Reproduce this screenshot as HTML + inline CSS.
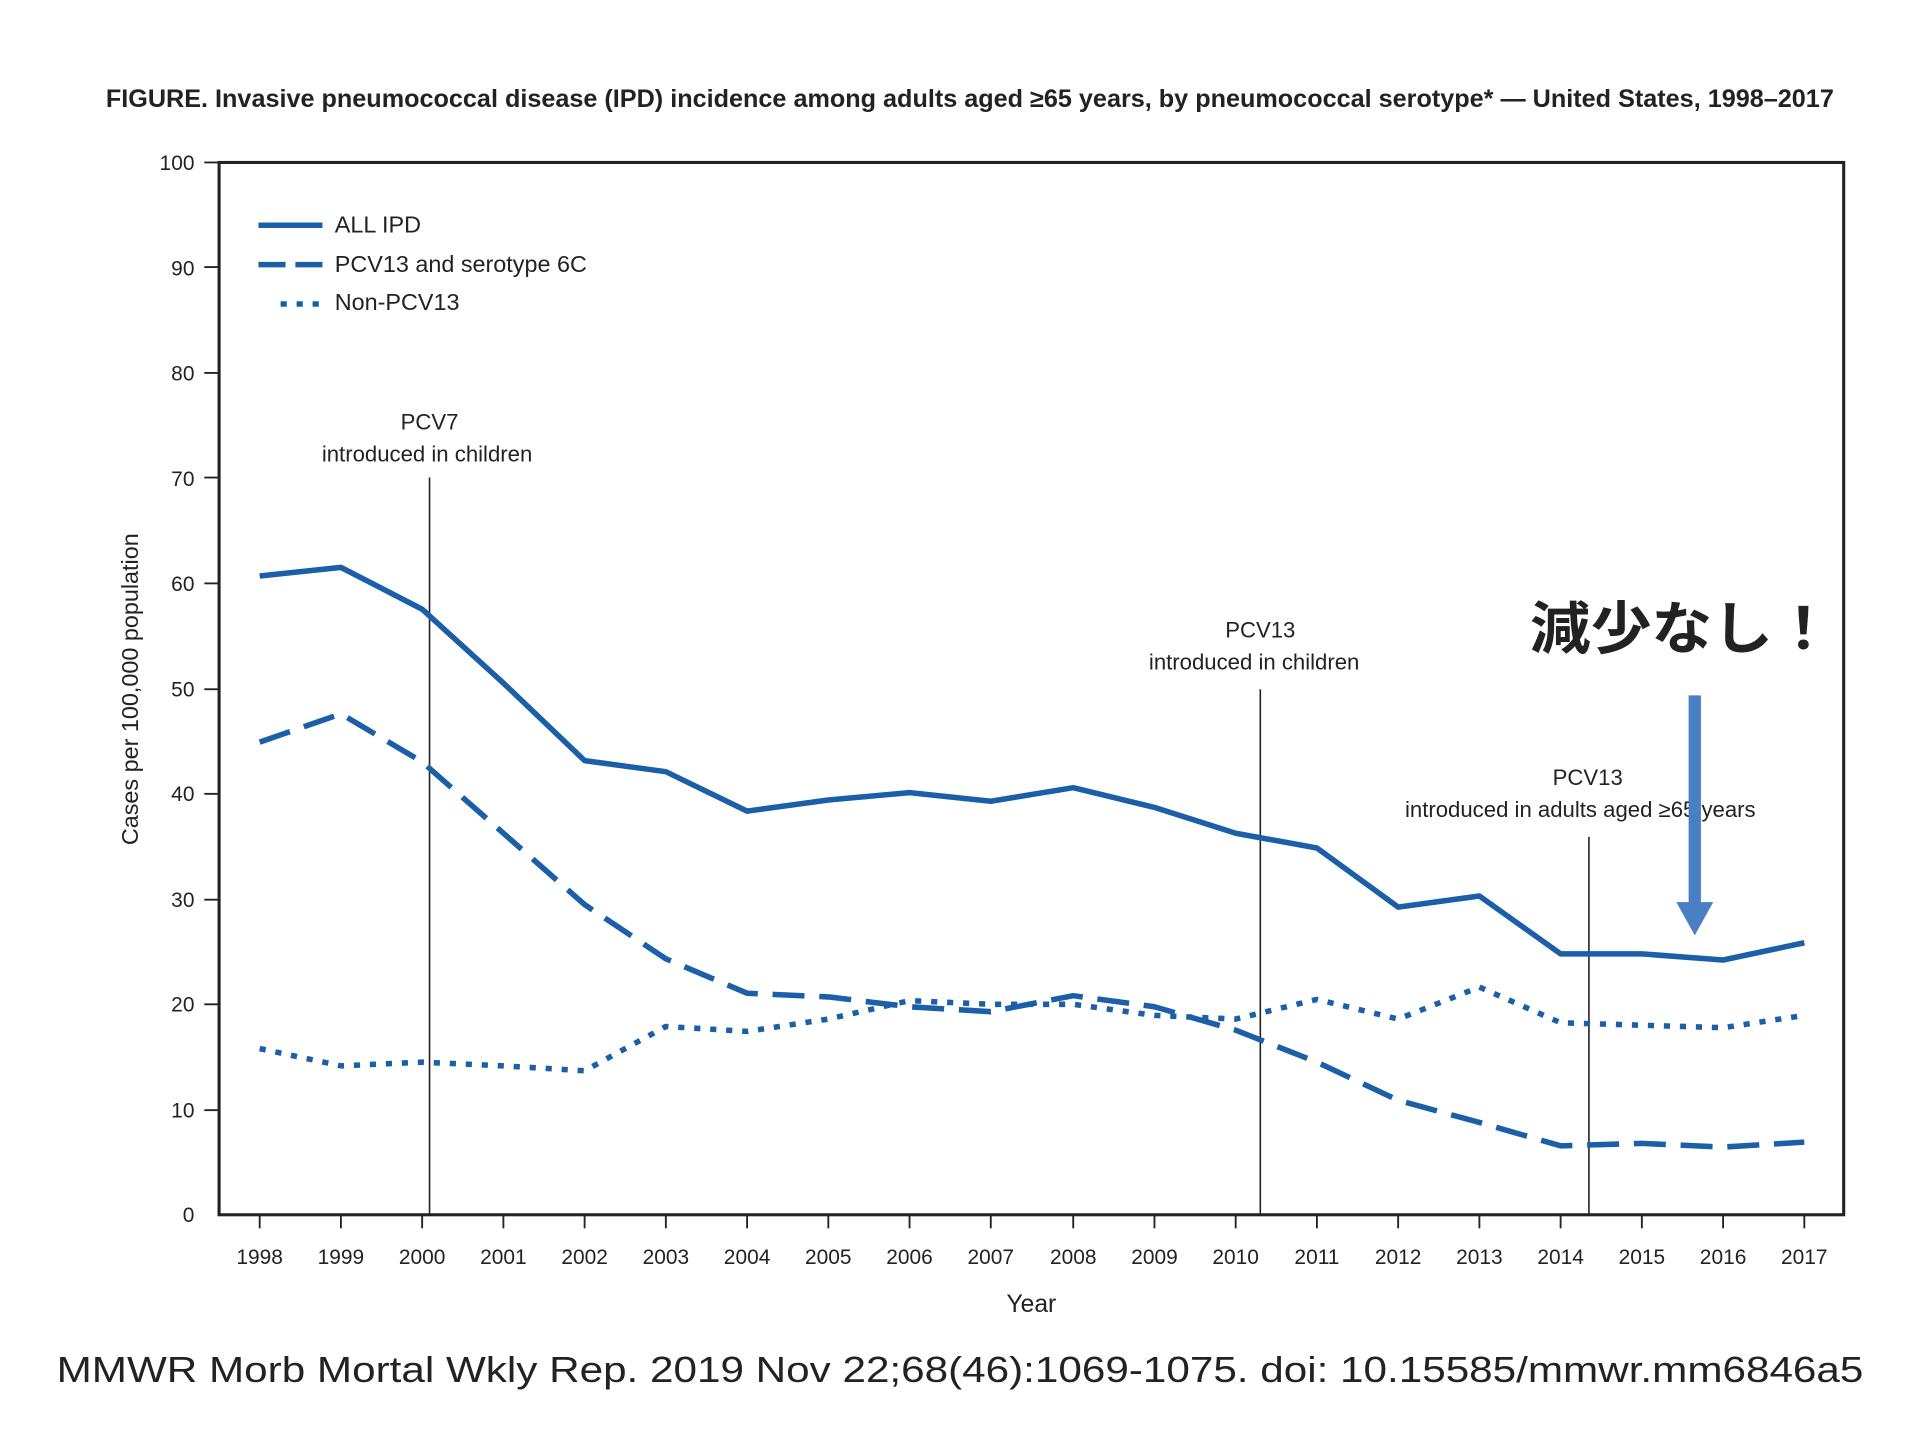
<!DOCTYPE html>
<html><head><meta charset="utf-8"><style>
html,body{margin:0;padding:0;background:#fff;}
svg{display:block;}
text{font-family:"Liberation Sans","Noto Sans CJK JP",sans-serif;fill:#222;}
</style></head><body>
<svg width="1920" height="1440" viewBox="0 0 1560 1170" xmlns="http://www.w3.org/2000/svg">
<rect width="1560" height="1170" fill="#fff"/>
<text x="86" y="87" font-size="20" font-weight="bold" textLength="1404" lengthAdjust="spacingAndGlyphs" fill="#333">FIGURE. Invasive pneumococcal disease (IPD) incidence among adults aged ≥65 years, by pneumococcal serotype* — United States, 1998–2017</text>
<rect x="178" y="132" width="1320" height="855" fill="none" stroke="#222" stroke-width="2.5"/>
<g font-size="17" text-anchor="end">
<text x="158" y="138">100</text><text x="158" y="224">90</text><text x="158" y="309">80</text><text x="158" y="395">70</text><text x="158" y="480">60</text><text x="158" y="566">50</text><text x="158" y="651">40</text><text x="158" y="737">30</text><text x="158" y="822">20</text><text x="158" y="908">10</text><text x="158" y="993">0</text>
</g>
<g stroke="#222" stroke-width="1.5">
<line x1="166" y1="132" x2="178" y2="132"/><line x1="166" y1="217" x2="178" y2="217"/><line x1="166" y1="303" x2="178" y2="303"/><line x1="166" y1="388" x2="178" y2="388"/><line x1="166" y1="474" x2="178" y2="474"/><line x1="166" y1="560" x2="178" y2="560"/><line x1="166" y1="645" x2="178" y2="645"/><line x1="166" y1="731" x2="178" y2="731"/><line x1="166" y1="816" x2="178" y2="816"/><line x1="166" y1="902" x2="178" y2="902"/>
</g>
<text transform="translate(112,560) rotate(-90)" font-size="19" text-anchor="middle">Cases per 100,000 population</text>
<g font-size="17" text-anchor="middle">
<text x="211" y="1027">1998</text><text x="277" y="1027">1999</text><text x="343" y="1027">2000</text><text x="409" y="1027">2001</text><text x="475" y="1027">2002</text><text x="541" y="1027">2003</text><text x="607" y="1027">2004</text><text x="673" y="1027">2005</text><text x="739" y="1027">2006</text><text x="805" y="1027">2007</text><text x="872" y="1027">2008</text><text x="938" y="1027">2009</text><text x="1004" y="1027">2010</text><text x="1070" y="1027">2011</text><text x="1136" y="1027">2012</text><text x="1202" y="1027">2013</text><text x="1268" y="1027">2014</text><text x="1334" y="1027">2015</text><text x="1400" y="1027">2016</text><text x="1466" y="1027">2017</text>
</g>
<g stroke="#222" stroke-width="1.5">
<line x1="211" y1="987" x2="211" y2="998"/><line x1="277" y1="987" x2="277" y2="998"/><line x1="343" y1="987" x2="343" y2="998"/><line x1="409" y1="987" x2="409" y2="998"/><line x1="475" y1="987" x2="475" y2="998"/><line x1="541" y1="987" x2="541" y2="998"/><line x1="607" y1="987" x2="607" y2="998"/><line x1="673" y1="987" x2="673" y2="998"/><line x1="739" y1="987" x2="739" y2="998"/><line x1="805" y1="987" x2="805" y2="998"/><line x1="872" y1="987" x2="872" y2="998"/><line x1="938" y1="987" x2="938" y2="998"/><line x1="1004" y1="987" x2="1004" y2="998"/><line x1="1070" y1="987" x2="1070" y2="998"/><line x1="1136" y1="987" x2="1136" y2="998"/><line x1="1202" y1="987" x2="1202" y2="998"/><line x1="1268" y1="987" x2="1268" y2="998"/><line x1="1334" y1="987" x2="1334" y2="998"/><line x1="1400" y1="987" x2="1400" y2="998"/><line x1="1466" y1="987" x2="1466" y2="998"/>
</g>
<text x="838" y="1066" font-size="20" text-anchor="middle">Year</text>
<g stroke="#222" stroke-width="1.3">
<line x1="349" y1="388" x2="349" y2="987"/><line x1="1024" y1="560" x2="1024" y2="987"/><line x1="1291" y1="680" x2="1291" y2="987"/>
</g>
<g font-size="18" text-anchor="middle">
<text x="349" y="349">PCV7</text><text x="347" y="375">introduced in children</text>
<text x="1024" y="518">PCV13</text><text x="1019" y="544">introduced in children</text>
<text x="1290" y="638">PCV13</text><text x="1284" y="664">introduced in adults aged ≥65 years</text>
</g>
<g fill="none" stroke="#1a5fa8" stroke-width="4.5" stroke-linejoin="round">
<polyline points="211,468 277,461 343,495 409,555 475,618 541,627 607,659 673,650 739,644 805,651 872,640 938,656 1004,677 1070,689 1136,737 1202,728 1268,775 1334,775 1400,780 1466,766"/>
<polyline stroke-dasharray="26,12" points="211,603 277,580 343,619 409,677 475,735 541,779 607,807 673,810 739,818 805,822 872,809 938,818 1004,837 1070,863 1136,894 1202,912 1268,931 1334,929 1400,932 1466,928"/>
<polyline stroke-dasharray="5,8" points="211,852 277,866 343,863 409,866 475,870 541,834 607,838 673,828 739,813 805,816 872,816 938,825 1004,828 1070,812 1136,828 1202,802 1268,831 1334,833 1400,835 1466,825"/>
<line x1="210" y1="183" x2="262" y2="183"/>
<line x1="210" y1="215" x2="262" y2="215" stroke-dasharray="22,8"/>
<line x1="228" y1="247" x2="262" y2="247" stroke-dasharray="5,8"/>
</g>
<g font-size="19"><text x="272" y="189">ALL IPD</text><text x="272" y="221">PCV13 and serotype 6C</text><text x="272" y="252">Non-PCV13</text></g>
<rect x="1372" y="565" width="10" height="170" fill="#4a7fc4"/>
<polygon points="1362,733 1392,733 1377,760" fill="#4a7fc4"/>
<text x="1243" y="527" font-size="46" font-weight="bold" textLength="247" lengthAdjust="spacingAndGlyphs" fill="#111">減少なし！</text>
<text x="46" y="1123" font-size="29" textLength="1468" lengthAdjust="spacingAndGlyphs" fill="#111">MMWR Morb Mortal Wkly Rep. 2019 Nov 22;68(46):1069-1075. doi: 10.15585/mmwr.mm6846a5</text>
</svg>
</body></html>
